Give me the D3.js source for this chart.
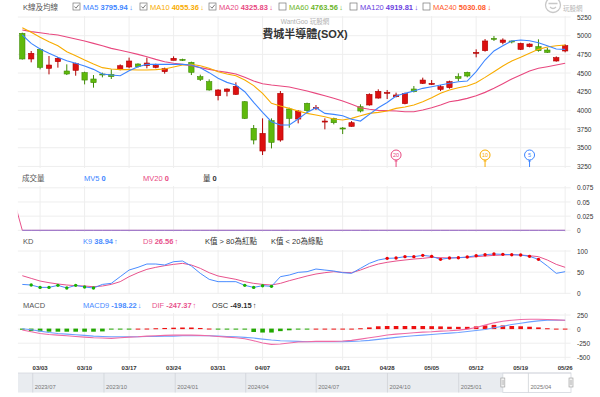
<!DOCTYPE html>
<html><head><meta charset="utf-8">
<script src="https://cdn.jsdelivr.net/npm/d3@7"></script>
<style>
body{margin:0;background:#fff;}
svg{display:block;font-family:"Liberation Sans",Arial,"Noto Sans CJK TC",sans-serif;}
</style></head><body>
<script>
// trading days shown
const dates = ["02/27","02/28","03/03","03/04","03/05","03/06","03/07","03/10","03/11","03/12","03/13","03/14",
  "03/17","03/18","03/19","03/20","03/21","03/24","03/25","03/26","03/27","03/28","03/31","04/01","04/02","04/03","04/04",
  "04/07","04/08","04/09","04/10","04/11","04/14","04/15","04/16","04/17","04/21","04/22","04/23","04/24","04/25",
  "04/28","04/29","04/30","05/01","05/02","05/05","05/06","05/07","05/08","05/09","05/12","05/13","05/14","05/15","05/16",
  "05/19","05/20","05/21","05/22","05/23","05/26"];
const tickDates = ["03/03","03/10","03/17","03/24","03/31","04/07","04/21","04/28","05/05","05/12","05/19","05/26"];

const openV  = [5031,4688,4817,4563,4652,4527,4536,4505,4420,4487,4482,4545,4581,4621,4598,4576,4518,4670,4683,4643,4451,
  4384,4197,4255,4214,4116,3759,3456,3862,3603,4018,3884,4094,4027,3848,3889,3764,3786,4049,4072,4165,
  4228,4183,4090,4286,4362,4348,4281,4304,4451,4509,4768,4799,4964,4911,4929,4817,4853,4853,4808,4661,4795];
const highV  = [5040,4795,4830,4728,4714,4616,4639,4518,4473,4505,4549,4616,4706,4630,4706,4625,4572,4723,4692,4652,4478,
  4415,4282,4295,4375,4125,3804,3893,3893,4259,4036,4005,4103,4072,3893,3902,3777,3857,4081,4228,4282,
  4273,4237,4237,4326,4438,4406,4340,4398,4496,4518,4817,4955,4996,4964,4933,4906,4897,4951,4839,4723,4884];
const lowV   = [4680,4643,4549,4482,4572,4473,4464,4348,4304,4442,4420,4536,4563,4572,4563,4563,4491,4670,4661,4473,4393,
  4264,4134,4188,4206,3884,3545,3402,3491,3581,3768,3826,3960,4005,3746,3813,3683,3781,3973,4063,4157,
  4152,4174,4081,4241,4353,4340,4259,4290,4393,4442,4710,4786,4929,4884,4897,4808,4844,4786,4768,4652,4777];
const closeV = [4688,4764,4576,4607,4697,4487,4625,4406,4371,4478,4451,4598,4661,4585,4634,4603,4558,4697,4670,4509,4415,
  4273,4273,4286,4322,3893,3603,3692,3572,4228,3893,3991,3996,4036,3857,3835,3755,3835,3991,4214,4255,
  4241,4206,4228,4250,4406,4362,4317,4384,4429,4460,4777,4929,4955,4942,4920,4897,4888,4799,4777,4706,4866];

const ma5  = [5009,4897,4822,4764,4710,4665,4630,4594,4549,4487,4473,4464,4531,4585,4616,4616,4616,4616,4616,4607,4572,
  4505,4429,4375,4340,4250,4107,3973,3848,3804,3804,3884,3973,4036,3960,3947,3929,3880,3857,3947,4036,
  4105,4192,4228,4259,4295,4317,4340,4362,4384,4393,4518,4674,4795,4866,4929,4942,4933,4906,4866,4822,4817];
const ma10 = [5107,5045,4978,4920,4866,4786,4732,4674,4621,4572,4554,4545,4545,4540,4540,4545,4554,4580,4607,4616,4598,
  4563,4518,4487,4464,4406,4331,4228,4094,4058,4027,3991,3960,3938,3915,3884,3871,3893,3929,3960,3973,
  3991,4027,4045,4072,4116,4170,4228,4273,4304,4326,4371,4442,4518,4594,4661,4710,4764,4817,4848,4866,4875];
const ma20 = [5076,5054,5040,5022,5009,4982,4956,4929,4897,4866,4830,4804,4777,4750,4719,4683,4652,4630,4616,4598,4572,
  4549,4527,4509,4487,4442,4393,4357,4340,4326,4313,4286,4259,4228,4197,4161,4125,4081,4036,4014,4000,
  3996,3991,3982,3982,4005,4036,4072,4116,4134,4161,4197,4241,4295,4357,4420,4473,4527,4563,4585,4607,4630];

const maNames  = ["MA5","MA10","MA20","MA60","MA120","MA240"];
const maValues = ["3795.94","4055.36","4325.83","4763.56","4919.81","5030.08"];
const maOn     = [true,true,true,false,false,false];
const pinPeriods = [20,10,5];

const vol  = dates.map(() => 0);
const mv5  = dates.map(() => 0);
const mv20 = dates.map(() => 0);
const mv20Prior = 0.057;

const kVals = [21,19.6,14,14,18.8,12.5,18.8,14.9,12.5,21,23.5,39.3,55,61.4,69.2,69.2,66.9,74.7,76.3,64.5,47.2,
  33,27.5,27.5,27.5,18.8,14,18,16.4,39.3,43.2,49.5,51.1,57.4,55,52.7,48.7,47.2,59,70.8,78.7,
  82.6,83.4,86.6,86.6,89.7,87.3,80.3,83.4,84.2,85.8,88.9,91.3,92.9,92.1,91.3,90.5,87.3,80.3,64.5,47.2,51.1];
const dVals = [41.6,35.3,29,25.1,22,19.6,18,17.2,15.6,17.2,21.1,27.5,39.3,48.7,56.6,61.4,65.3,68.4,70.8,66.9,59,
  48.7,40.9,36.9,33,27.5,23.5,21.1,19.6,23.5,29.8,35.3,40.9,45.6,48.7,51.1,49.5,48.7,55,62.9,69.2,
  73.2,76.3,78.7,81,82.6,85,84.2,83.4,84.2,85,86.6,88.1,89.7,90.5,91.3,90.5,88.9,86.6,78.7,68.4,61.4];

const dif = [-15,-48,-77,-95,-106,-118,-130,-142,-153,-159,-165,-153,-142,-136,-124,-118,-112,-106,-106,-106,-112,
  -118,-130,-142,-153,-171,-206,-247,-271,-265,-247,-230,-224,-218,-218,-218,-212,-200,-177,-153,-130,
  -106,-89,-77,-65,-53,-48,-36,-30,-18,0,29,70,111,140,158,170,175,175,170,164,158];
const macd9 = [6,-12,-36,-59,-77,-89,-100,-112,-124,-130,-136,-136,-136,-136,-130,-130,-124,-124,-118,-118,-118,
  -118,-124,-130,-136,-147,-159,-177,-194,-206,-212,-218,-224,-224,-224,-224,-224,-218,-212,-200,-183,
  -165,-147,-130,-118,-106,-95,-83,-71,-59,-42,-24,-6,23,52,81,105,128,146,158,158,158];
const osc = [-20,-45,-50,-55,-55,-55,-55,-55,-55,-50,-15,-10,-3,5,10,15,20,25,28,28,20,
  10,-5,-12,-12,-18,-60,-70,-70,-45,-30,-15,-5,3,5,5,5,8,15,30,50,
  55,55,55,55,55,52,48,42,40,40,48,65,75,65,55,50,42,30,15,8,3];

const navTicks = ["2023/07","2023/10","2024/01","2024/04","2024/07","2024/10","2025/01","2025/04"];

// ---------------------------------------------------------------
const W = 600, H = 397, L = 17.85, R = 569.6;
const upFill = "#dc1010", upLine = "#b00000", dnFill = "#5fb90c", dnLine = "#3e8a06";
const maColors = ["#3d85ff","#f8ac00","#e8487f","#6cb52a","#6a3ee0","#ff5a2a"];
const cBlue = "#4a8cff", cPink = "#e8528c";

const svg = d3.select("body").append("svg").attr("width", W).attr("height", H);

const x = d3.scaleBand().domain(dates).range([L, R]).paddingInner(0.4).paddingOuter(0.2);
const cx = d => x(d) + x.bandwidth() / 2;
const step = x.step();

const panels = {
  main: {top: 16, bottom: 168, y: d3.scaleLinear().domain([3250, 5250]).range([166.4, 17.0]),
         ticks: [5250,5000,4750,4500,4250,4000,3750,3500,3250]},
  vol:  {top: 186, bottom: 232, y: d3.scaleLinear().domain([0, 0.075]).range([230.3, 187.8]),
         ticks: [0.075,0.05,0.025,0]},
  kd:   {top: 250, bottom: 294, y: d3.scaleLinear().domain([0, 100]).range([293.3, 251]),
         ticks: [100,50,0]},
  macd: {top: 313, bottom: 360, y: d3.scaleLinear().domain([-500, 250]).range([357.3, 315]),
         ticks: [250,0,-250,-500]}
};

const defs = svg.append("defs");
Object.entries(panels).forEach(([k, p]) => {
  defs.append("clipPath").attr("id", "clip-" + k).append("rect")
    .attr("x", L).attr("y", p.top).attr("width", R - L + 1).attr("height", p.bottom - p.top);
  const g = svg.append("g").attr("class", "grid");
  g.selectAll("line.h").data(p.ticks).join("line")
    .attr("x1", L).attr("x2", R + 1).attr("y1", d => p.y(d)).attr("y2", d => p.y(d))
    .attr("stroke", "#eeeeee").attr("stroke-width", 1);
  g.selectAll("line.v").data(tickDates).join("line")
    .attr("x1", cx).attr("x2", cx).attr("y1", p.top).attr("y2", p.bottom)
    .attr("stroke", "#eeeeee").attr("stroke-width", 1);
  const ax = svg.append("g").attr("transform", "translate(577,0)")
    .call(d3.axisRight(p.y).tickValues(p.ticks).tickSize(0).tickPadding(0).tickFormat(d => String(d)));
  ax.select(".domain").remove();
  ax.attr("font-family", null).attr("font-size", 6.5);
  ax.selectAll("text").attr("fill", "#333");
});

// ---- top legend
svg.append("text").attr("x", 23).attr("y", 9.5).attr("font-size", 7.5).attr("fill", "#555").text("K線及均線");
const legX = [73, 140, 209, 279, 350, 423];
maNames.forEach((n, i) => {
  const g = svg.append("g").attr("transform", `translate(${legX[i]},3)`);
  g.append("rect").attr("width", 7).attr("height", 7).attr("fill", "#fff").attr("stroke", "#777").attr("stroke-width", 0.7);
  if (maOn[i]) g.append("path").attr("d", "M1.4,3.5 L3,5.2 L5.8,1.7").attr("fill", "none").attr("stroke", "#555").attr("stroke-width", 0.8);
  const t = svg.append("text").attr("x", legX[i] + 10).attr("y", 9.5).attr("font-size", 7.5).attr("fill", maColors[i]);
  t.append("tspan").text(n + " ");
  t.append("tspan").attr("font-weight", "bold").text(maValues[i]);
  t.append("tspan").attr("dx", 1.5).text("↓");
});

// logo
const logo = svg.append("g").attr("fill", "none").attr("stroke", "#c8c8c8").attr("stroke-width", 1.3);
logo.append("circle").attr("cx", 553).attr("cy", 5).attr("r", 7.5);
logo.append("path").attr("d", "M548.5,3.5 L557.5,3.5 M550,7 Q553,10 556,7");
svg.append("text").attr("x", 563).attr("y", 11).attr("font-size", 6.5).attr("fill", "#b5b5b5").text("玩股網");

// watermark + title
svg.append("text").attr("x", 305).attr("y", 23.5).attr("text-anchor", "middle").attr("font-size", 6.5)
  .attr("fill", "#b0b0b0").text("WantGoo 玩股網");
svg.append("text").attr("x", 305).attr("y", 38).attr("text-anchor", "middle").attr("font-size", 11)
  .attr("font-weight", "bold").attr("fill", "#333").text("費城半導體(SOX)");

// ---- candles
const ym = panels.main.y;
const cg = svg.append("g").attr("clip-path", "url(#clip-main)");
const idx = d3.range(dates.length);
cg.selectAll("line.wick").data(idx).join("line")
  .attr("x1", i => cx(dates[i])).attr("x2", i => cx(dates[i]))
  .attr("y1", i => ym(highV[i])).attr("y2", i => ym(lowV[i]))
  .attr("stroke", i => closeV[i] >= openV[i] ? upLine : dnLine).attr("stroke-width", 1);
cg.selectAll("rect.body").data(idx).join("rect")
  .attr("x", i => x(dates[i])).attr("width", x.bandwidth())
  .attr("y", i => ym(Math.max(openV[i], closeV[i])))
  .attr("height", i => Math.max(1, ym(Math.min(openV[i], closeV[i])) - ym(Math.max(openV[i], closeV[i]))))
  .attr("fill", i => closeV[i] >= openV[i] ? upFill : dnFill)
  .attr("stroke", i => closeV[i] >= openV[i] ? upLine : dnLine).attr("stroke-width", 0.6);

const lineM = arr => d3.line().x((d, i) => cx(dates[i])).y(d => ym(d))(arr);
[[ma20, maColors[2]], [ma10, maColors[1]], [ma5, maColors[0]]].forEach(([a, c]) => {
  cg.append("path").attr("d", lineM(a)).attr("fill", "none").attr("stroke", c).attr("stroke-width", 1.1);
});

// deduction pins
pinPeriods.forEach((n, k) => {
  const i = dates.length - n;
  const px = cx(dates[i]), col = maColors[k === 0 ? 2 : k === 1 ? 1 : 0];
  svg.append("line").attr("x1", px).attr("x2", px).attr("y1", 160).attr("y2", 167).attr("stroke", col).attr("stroke-width", 1);
  svg.append("line").attr("x1", px - 1.5).attr("x2", px + 1.5).attr("y1", 161).attr("y2", 161).attr("stroke", col).attr("stroke-width", 0.8);
  svg.append("circle").attr("cx", px).attr("cy", 155).attr("r", 5).attr("fill", "#fff").attr("stroke", col).attr("stroke-width", 1);
  svg.append("text").attr("x", px).attr("y", 157).attr("text-anchor", "middle").attr("font-size", 5.5).attr("fill", col).text(n);
});

// ---- volume panel
function legend(y, items) {
  items.forEach(it => {
    const t = svg.append("text").attr("x", it.x).attr("y", y).attr("font-size", 7.5).attr("fill", it.c);
    t.append("tspan").text(it.a);
    if (it.b !== undefined) t.append("tspan").attr("font-weight", "bold").text(it.b);
    if (it.arrow) t.append("tspan").attr("dx", 1).text(it.arrow);
  });
}
legend(180.8, [{x: 22, c: "#555", a: "成交量"}, {x: 84, c: maColors[0], a: "MV5 ", b: "0"},
  {x: 143, c: maColors[2], a: "MV20 ", b: "0"}, {x: 203, c: "#333", a: "量 ", b: "0"}]);
const yv = panels.vol.y;
const vg = svg.append("g").attr("clip-path", "url(#clip-vol)");
const mv20Pts = [[cx(dates[0]) - step, mv20Prior]].concat(mv20.map((v, i) => [cx(dates[i]), v]));
vg.append("path").attr("d", d3.line().x(d => d[0]).y(d => yv(d[1]))(mv20Pts))
  .attr("fill", "none").attr("stroke", cPink).attr("stroke-width", 1);
vg.append("path").attr("d", d3.line().x((d, i) => cx(dates[i])).y(d => yv(d))(mv5))
  .attr("fill", "none").attr("stroke", cBlue).attr("stroke-opacity", 0.55).attr("stroke-width", 1);
vg.selectAll("rect").data(vol).join("rect").attr("x", (d, i) => x(dates[i])).attr("width", x.bandwidth())
  .attr("y", d => yv(d)).attr("height", d => yv(0) - yv(d)).attr("fill", "#999");

// ---- KD panel
legend(244, [{x: 23, c: "#555", a: "KD"}, {x: 83, c: cBlue, a: "K9 ", b: "38.94", arrow: "↑"},
  {x: 143, c: cPink, a: "D9 ", b: "26.56", arrow: "↑"}, {x: 205, c: "#333", a: "K值 > 80為紅點"},
  {x: 271, c: "#333", a: "K值 < 20為綠點"}]);
const yk = panels.kd.y;
const kg = svg.append("g").attr("clip-path", "url(#clip-kd)");
const lineK = arr => d3.line().x((d, i) => cx(dates[i])).y(d => yk(d))(arr);
kg.append("path").attr("d", lineK(dVals)).attr("fill", "none").attr("stroke", cPink).attr("stroke-width", 1);
kg.append("path").attr("d", lineK(kVals)).attr("fill", "none").attr("stroke", cBlue).attr("stroke-width", 1);
kg.selectAll("circle").data(idx.filter(i => kVals[i] > 80 || kVals[i] < 20)).join("circle")
  .attr("cx", i => cx(dates[i])).attr("cy", i => yk(kVals[i])).attr("r", 1.7)
  .attr("fill", i => kVals[i] > 80 ? "#ee0000" : "#19b000");

// ---- MACD panel
legend(308, [{x: 23, c: "#555", a: "MACD"}, {x: 83, c: cBlue, a: "MACD9 ", b: "-198.22", arrow: "↓"},
  {x: 152, c: cPink, a: "DIF ", b: "-247.37", arrow: "↑"}, {x: 212, c: "#333", a: "OSC ", b: "-49.15", arrow: "↑"}]);
const yc = panels.macd.y;
const mg = svg.append("g").attr("clip-path", "url(#clip-macd)");
const bw = step * 0.52;
mg.selectAll("rect").data(osc).join("rect")
  .attr("x", (d, i) => cx(dates[i]) - bw / 2).attr("width", bw)
  .attr("y", d => Math.min(yc(d), yc(0) - 0.5))
  .attr("height", d => Math.max(1, Math.abs(yc(d) - yc(0))))
  .attr("fill", d => d >= 0 ? "#ee1111" : "#22a800");
const lineC = arr => d3.line().x((d, i) => cx(dates[i])).y(d => yc(d))(arr);
mg.append("path").attr("d", lineC(macd9)).attr("fill", "none").attr("stroke", "#6ea2ff").attr("stroke-width", 1.1);
mg.append("path").attr("d", lineC(dif)).attr("fill", "none").attr("stroke", "#ee6aa5").attr("stroke-width", 1.1);

// date axis
const xa = svg.append("g").attr("transform", "translate(0,362)")
  .call(d3.axisBottom(x).tickValues(tickDates).tickSize(0).tickPadding(4));
xa.select(".domain").remove();
xa.attr("font-family", null).attr("font-size", 6).attr("font-weight", "bold");
xa.selectAll("text").attr("fill", "#333");

// ---- navigator
const nav = d3.scaleTime().domain([new Date(2023, 5, 12), new Date(2025, 4, 26)]).range([18, 571]);
const ng = svg.append("g");
ng.append("rect").attr("x", 18).attr("y", 373).attr("width", 553).attr("height", 19.5).attr("fill", "#e9ecf0");
const selX0 = nav(new Date(2025, 1, 27));
ng.append("rect").attr("x", selX0).attr("y", 373).attr("width", 571 - selX0).attr("height", 19.5)
  .attr("fill", "#fff").attr("stroke", "#d4d8de").attr("stroke-width", 0.8);
ng.append("line").attr("x1", 18).attr("x2", 571).attr("y1", 373).attr("y2", 373).attr("stroke", "#d4d8de").attr("stroke-width", 0.8);
const navDate = s => new Date(+s.slice(0, 4), +s.slice(5) - 1, 1);
ng.selectAll("line.d").data(navTicks).join("line")
  .attr("x1", d => nav(navDate(d))).attr("x2", d => nav(navDate(d))).attr("y1", 373).attr("y2", 392.5)
  .attr("stroke", "#cfd3d8").attr("stroke-width", 0.8);
ng.selectAll("text").data(navTicks).join("text")
  .attr("x", d => nav(navDate(d)) + 2).attr("y", 388.5).attr("font-size", 5.8).attr("fill", "#777").text(d => d);
[selX0, 571].forEach(hx => {
  ng.append("rect").attr("x", hx - 2).attr("y", 378).attr("width", 4).attr("height", 9)
    .attr("fill", "#f2f2f2").attr("stroke", "#999").attr("stroke-width", 0.6);
  ng.append("line").attr("x1", hx - 0.6).attr("x2", hx - 0.6).attr("y1", 380).attr("y2", 385).attr("stroke", "#999").attr("stroke-width", 0.4);
  ng.append("line").attr("x1", hx + 0.6).attr("x2", hx + 0.6).attr("y1", 380).attr("y2", 385).attr("stroke", "#999").attr("stroke-width", 0.4);
});
</script>
</body></html>
